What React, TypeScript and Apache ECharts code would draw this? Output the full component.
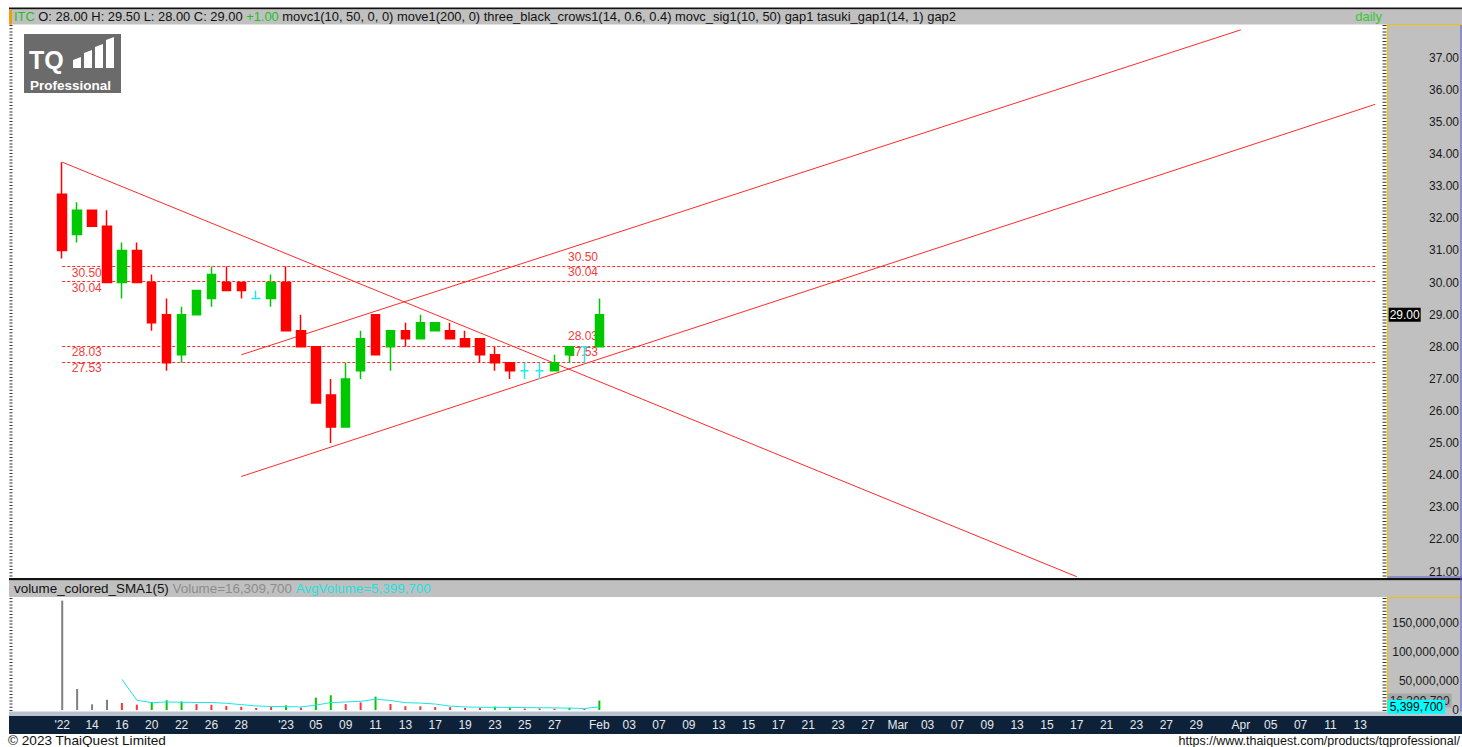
import React, { useEffect, useRef } from 'react';
import * as echarts from 'echarts';

// ---------------- data ----------------
const symbol = 'ITC';
const timeframe = 'daily';
const indicatorList =
  'movc1(10, 50, 0, 0) move1(200, 0) three_black_crows1(14, 0.6, 0.4) movc_sig1(10, 50) gap1 tasuki_gap1(14, 1) gap2';
const volumeIndicator = 'volume_colored_SMA1(5)';
const smaPeriod = 5;

const axisStart = '2022-12-06';
const axisEnd = '2023-04-14';
const marketHolidays = ['2022-12-12', '2023-01-02'];
const firstTradeDate = '2022-12-09';

const opens = [
  32.75, 31.5, 32.25, 31.75, 30.0, 31.0, 30.0, 29.0, 27.75, 29.0, 29.5, 30.0, 30.0, 29.5, 29.5, 30.0, 28.5,
  28.0, 26.5, 25.5, 27.25, 29.0, 28.0, 28.5, 28.25, 28.5, 28.5, 28.25, 28.25, 27.75, 27.5, 27.25, 27.25,
  27.25, 27.75, 28.0, 28.0,
];
const highs = [
  33.75, 32.5, 32.25, 32.25, 31.25, 31.25, 30.25, 29.5, 29.25, 29.75, 30.5, 30.5, 30.0, 29.75, 30.25, 30.5,
  29.0, 28.0, 27.0, 27.5, 28.5, 29.0, 28.5, 28.75, 29.0, 28.75, 28.75, 28.5, 28.25, 28.0, 27.5, 27.5, 27.5,
  27.75, 28.0, 28.0, 29.5,
];
const lows = [
  30.75, 31.25, 31.75, 30.0, 29.5, 30.0, 28.5, 27.25, 27.5, 29.0, 29.25, 29.75, 29.5, 29.5, 29.25, 28.5,
  28.0, 26.25, 25.0, 25.5, 27.0, 27.75, 27.25, 28.0, 28.25, 28.5, 28.25, 28.0, 27.5, 27.25, 27.0, 27.0,
  27.0, 27.25, 27.5, 27.5, 28.0,
];
const closes = [
  31.0, 32.25, 31.75, 30.0, 31.0, 30.0, 28.75, 27.5, 29.0, 29.75, 30.25, 29.75, 29.75, 29.5, 30.0, 28.5,
  28.0, 26.25, 25.5, 27.0, 28.25, 27.75, 28.5, 28.25, 28.75, 28.75, 28.25, 28.0, 27.75, 27.5, 27.25, 27.25,
  27.25, 27.5, 28.0, 28.0, 29.0,
];
const volumes = [
  188500000, 36200000, 9800000, 17600000, 12100000, 9200000, 13900000, 16800000, 14700000, 10100000,
  9000000, 7100000, 5600000, 3400000, 5000000, 8100000, 4200000, 21300000, 25400000, 10200000, 13100000,
  23000000, 10300000, 6600000, 6400000, 5100000, 4900000, 3600000, 3400000, 5900000, 5000000, 2500000,
  2612300, 2398600, 3786400, 1891500, 16309700,
];

const tickDates = [
  '2022-12-09', '2022-12-14', '2022-12-16', '2022-12-20', '2022-12-22', '2022-12-26', '2022-12-28',
  '2023-01-03', '2023-01-05', '2023-01-09', '2023-01-11', '2023-01-13', '2023-01-17', '2023-01-19',
  '2023-01-23', '2023-01-25', '2023-01-27', '2023-02-01', '2023-02-03', '2023-02-07', '2023-02-09',
  '2023-02-13', '2023-02-15', '2023-02-17', '2023-02-21', '2023-02-23', '2023-02-27', '2023-03-01',
  '2023-03-03', '2023-03-07', '2023-03-09', '2023-03-13', '2023-03-15', '2023-03-17', '2023-03-21',
  '2023-03-23', '2023-03-27', '2023-03-29', '2023-04-03', '2023-04-05', '2023-04-07', '2023-04-11',
  '2023-04-13',
];
const tickLabels = [
  "'22", '14', '16', '20', '22', '26', '28', "'23", '05', '09', '11', '13', '17', '19', '23', '25', '27',
  'Feb', '03', '07', '09', '13', '15', '17', '21', '23', '27', 'Mar', '03', '07', '09', '13', '15', '17',
  '21', '23', '27', '29', 'Apr', '05', '07', '11', '13',
];

const priceTicks = [21, 22, 23, 24, 25, 26, 27, 28, 29, 30, 31, 32, 33, 34, 35, 36, 37];
const volumeTicks = [0, 50000000, 100000000, 150000000];

const gapLevels = [30.5, 30.04, 28.03, 27.53];
const gapLabelDate = '2023-01-30';
const gapLineEnd = '2023-04-14';

const trendStart = ['2022-12-09', '2022-12-28', '2022-12-28'];
const trendStartPrice = [33.75, 27.75, 23.96];
const trendEnd = ['2023-03-17', '2023-04-03', '2023-04-14'];
const trendEndPrice = [20.84, 37.87, 35.55];

// ---------------- helpers ----------------
const FONT = "'Liberation Sans', Arial, sans-serif";
const UP = '#00c800';
const DOWN = '#ff0000';
const DOJI = '#1ee8f0';
const LEVEL = '#ff2a2a';
const GRAY = '#c0c0c0';
const YELLOW = '#f2c200';

const fmt2 = (v: number) => v.toFixed(2);
const fmtInt = (v: number) => Math.round(v).toLocaleString('en-US');

function tradingDays(start: string, end: string, skip: string[]) {
  const out: string[] = [];
  const d = new Date(start + 'T00:00:00Z');
  const e = new Date(end + 'T00:00:00Z');
  while (d.getTime() <= e.getTime()) {
    const wd = d.getUTCDay();
    const s = d.toISOString().slice(0, 10);
    if (wd !== 0 && wd !== 6 && skip.indexOf(s) < 0) out.push(s);
    d.setUTCDate(d.getUTCDate() + 1);
  }
  return out;
}

export default function App() {
  const ref = useRef<HTMLDivElement>(null);

  useEffect(() => {
    if (!ref.current) return;
    const chart = echarts.init(ref.current, null, { renderer: 'svg' });

    const categories = tradingDays(axisStart, axisEnd, marketHolidays);
    const startIdx = categories.indexOf(firstTradeDate);
    const barDates = categories.slice(startIdx, startIdx + closes.length);
    const tickMap = new Map<string, string>();
    tickDates.forEach((d, i) => tickMap.set(d, tickLabels[i]));

    const n = closes.length;
    const last = n - 1;
    const change = closes[last] - closes[last - 1];
    const changeText = (change >= 0 ? '+' : '') + fmt2(change);

    const sma: (number | null)[] = volumes.map((_, i) => {
      if (i < smaPeriod - 1) return null;
      let s = 0;
      for (let k = i - smaPeriod + 1; k <= i; k++) s += volumes[k];
      return s / smaPeriod;
    });
    const lastSma = sma[last] as number;

    const candleData = barDates.map((d, i) => [d, opens[i], closes[i], lows[i], highs[i]]);
    const volData = barDates.map((d, i) => {
      const s = sma[i];
      const color = s == null ? '#808080' : volumes[i] > s ? UP : '#ff3333';
      return { value: [d, volumes[i]], itemStyle: { color } };
    });
    const smaData = barDates
      .map((d, i) => [d, sma[i]])
      .filter((p) => p[1] != null);

    const gridW = 92 * 14.92;
    const gridRight = 10 + gridW;
    const labelMargin = 1459 - gridRight;

    const trendSeries = trendStart.map((s, i) => ({
      type: 'line',
      xAxisIndex: 0,
      yAxisIndex: 0,
      data: [
        [s, trendStartPrice[i]],
        [trendEnd[i], trendEndPrice[i]],
      ],
      symbol: 'none',
      silent: true,
      lineStyle: { color: '#ff2a2a', width: 1 },
      z: 4,
    }));

    (trendSeries[0] as any).markLine = {
      silent: true,
      symbol: ['none', 'none'],
      lineStyle: { color: LEVEL, type: [3, 2], width: 1 },
      label: { show: false },
      data: gapLevels.map((v) => [{ coord: [firstTradeDate, v] }, { coord: [gapLineEnd, v] }]),
    };
    (trendSeries[0] as any).markPoint = {
      silent: true,
      symbol: 'rect',
      symbolSize: 1,
      itemStyle: { color: 'rgba(0,0,0,0)' },
      label: {
        show: true,
        color: '#f03c3c',
        fontSize: 12,
        fontFamily: FONT,
        formatter: (p: any) => fmt2(p.value),
      },
      data: gapLevels.flatMap((v) => [
        { coord: [firstTradeDate, v], value: v, label: { position: [10, 1] } },
        { coord: [gapLabelDate, v], value: v, label: { position: [-1, -15] } },
      ]),
    };

    const tick = (x: number, y1: number, y2: number, w: number) => ({
      type: 'line',
      silent: true,
      shape: { x1: x, y1, x2: x, y2 },
      style: { stroke: '#333', lineWidth: w, lineDash: [1, 2.2] },
    });

    const option: any = {
      animation: false,
      textStyle: { fontFamily: FONT },
      title: [
        {
          left: 14,
          top: 10,
          padding: 0,
          text: `{g|${symbol}} {k|O: ${fmt2(opens[last])} H: ${fmt2(highs[last])} L: ${fmt2(lows[last])} C: ${fmt2(
            closes[last]
          )}} {g|${changeText}} {k|${indicatorList}}`,
          textStyle: {
            fontSize: 12.9,
            fontWeight: 'normal',
            color: '#111',
            fontFamily: FONT,
            rich: {
              g: { color: '#22c022', fontSize: 12.9, fontFamily: FONT },
              k: { color: '#111', fontSize: 12.9, fontFamily: FONT },
            },
          },
        },
        {
          right: 1462 - 1382,
          top: 10,
          padding: 0,
          text: timeframe,
          textStyle: { fontSize: 13, fontWeight: 'normal', color: '#32c832', fontFamily: FONT },
        },
        {
          left: 14,
          top: 582,
          padding: 0,
          text: `{a|${volumeIndicator}} {b|Volume=${fmtInt(volumes[last])}} {c|AvgVolume=${fmtInt(lastSma)}}`,
          textStyle: {
            fontSize: 13.4,
            fontWeight: 'normal',
            fontFamily: FONT,
            rich: {
              a: { color: '#111', fontSize: 13.4, fontFamily: FONT },
              b: { color: '#8c8c8c', fontSize: 13.4, fontFamily: FONT },
              c: { color: '#22e0e0', fontSize: 13.4, fontFamily: FONT },
            },
          },
        },
        {
          left: 8,
          top: 734,
          padding: 0,
          text: '© 2023 ThaiQuest Limited',
          textStyle: { fontSize: 13.6, lineHeight: 12, fontWeight: 'normal', color: '#111', fontFamily: FONT },
        },
        {
          right: 2,
          top: 735,
          padding: 0,
          text: 'https://www.thaiquest.com/products/tqprofessional/',
          textStyle: { fontSize: 12.5, lineHeight: 12, fontWeight: 'normal', color: '#111', fontFamily: FONT },
        },
      ],
      grid: [
        { left: 10, top: 25, width: gridW, height: 553 },
        { left: 10, top: 598, width: gridW, height: 112 },
      ],
      xAxis: [
        {
          type: 'category',
          gridIndex: 0,
          data: categories,
          axisLine: { show: false },
          axisTick: { show: false },
          axisLabel: { show: false },
          splitLine: { show: false },
        },
        {
          type: 'category',
          gridIndex: 1,
          data: categories,
          z: 3,
          axisLine: { show: false },
          axisTick: { show: false },
          splitLine: { show: false },
          axisLabel: {
            interval: (_i: number, v: string) => tickMap.has(v),
            formatter: (v: string) => tickMap.get(v) || '',
            color: '#e4e8ec',
            fontSize: 12,
            fontFamily: FONT,
            margin: 9,
          },
        },
      ],
      yAxis: [
        {
          type: 'value',
          gridIndex: 0,
          position: 'right',
          min: 20.8,
          max: 38.02,
          z: 3,
          splitLine: { show: false },
          axisLine: { show: false },
          axisTick: { show: false },
          axisLabel: {
            customValues: priceTicks,
            formatter: (v: number) => fmt2(v),
            align: 'right',
            margin: labelMargin,
            color: '#1a1a1a',
            fontSize: 12,
            fontFamily: FONT,
          },
        },
        {
          type: 'value',
          gridIndex: 1,
          position: 'right',
          min: 0,
          max: 193000000,
          z: 3,
          splitLine: { show: false },
          axisLine: { show: false },
          axisTick: { show: false },
          axisLabel: {
            customValues: volumeTicks,
            formatter: (v: number) => fmtInt(v),
            align: 'right',
            margin: labelMargin,
            color: '#1a1a1a',
            fontSize: 12,
            fontFamily: FONT,
          },
        },
      ],
      series: [
        ...trendSeries,
        {
          type: 'candlestick',
          xAxisIndex: 0,
          yAxisIndex: 0,
          barWidth: 9,
          data: candleData,
          encode: { x: 0, y: [1, 2, 3, 4] },
          z: 5,
          itemStyle: {
            color: UP,
            color0: DOWN,
            borderColor: UP,
            borderColor0: DOWN,
            borderColorDoji: DOJI,
            borderWidth: 1.5,
          },
          markLine: {
            silent: true,
            symbol: ['none', 'none'],
            lineStyle: { color: 'rgba(0,0,0,0)', width: 0 },
            label: {
              show: true,
              position: 'end',
              distance: 6,
              formatter: () => fmt2(closes[last]),
              color: '#fff',
              backgroundColor: '#000',
              padding: [1, 1, 1, 1],
              fontSize: 12,
              fontFamily: FONT,
            },
            data: [{ yAxis: closes[last] }],
          },
        },
        {
          type: 'bar',
          xAxisIndex: 1,
          yAxisIndex: 1,
          barWidth: 2,
          data: volData,
          z: 5,
          markLine: {
            silent: true,
            z: 5,
            symbol: ['none', 'none'],
            lineStyle: { color: 'rgba(0,0,0,0)', width: 0 },
            label: {
              show: true,
              position: 'end',
              distance: 5,
              formatter: () => fmtInt(volumes[last]),
              color: '#222',
              backgroundColor: '#a8a8a8',
              padding: [1, 2, 1, 2],
              fontSize: 12,
              fontFamily: FONT,
            },
            data: [{ yAxis: volumes[last] }],
          },
        },
        {
          type: 'line',
          xAxisIndex: 1,
          yAxisIndex: 1,
          data: smaData,
          symbol: 'none',
          z: 6,
          lineStyle: { color: '#19e6e6', width: 1 },
          markLine: {
            silent: true,
            z: 7,
            symbol: ['none', 'none'],
            lineStyle: { color: 'rgba(0,0,0,0)', width: 0 },
            label: {
              show: true,
              position: 'end',
              distance: 5,
              formatter: () => fmtInt(lastSma),
              color: '#000',
              backgroundColor: '#00ffff',
              padding: [1, 2, 1, 2],
              fontSize: 12,
              fontFamily: FONT,
            },
            data: [{ yAxis: lastSma }],
          },
        },
      ],
      graphic: [
        { type: 'rect', silent: true, shape: { x: 9, y: 7.5, width: 1453, height: 2 }, style: { fill: '#111' } },
        { type: 'rect', silent: true, shape: { x: 9, y: 9.5, width: 1453, height: 15 }, style: { fill: GRAY } },
        { type: 'rect', silent: true, shape: { x: 9, y: 9.5, width: 3, height: 15 }, style: { fill: '#f39c12' } },
        // price right panel
        { type: 'rect', silent: true, shape: { x: 1387.5, y: 24.5, width: 74.5, height: 554 }, style: { fill: GRAY } },
        { type: 'line', silent: true, shape: { x1: 1387.5, y1: 24.5, x2: 1387.5, y2: 578 }, style: { stroke: YELLOW, lineWidth: 1.2 } },
        { type: 'line', silent: true, shape: { x1: 1387.5, y1: 24.5, x2: 1462, y2: 24.5 }, style: { stroke: YELLOW, lineWidth: 1 } },
        { type: 'line', silent: true, shape: { x1: 1387.5, y1: 577, x2: 1462, y2: 577 }, style: { stroke: '#5a5ad0', lineWidth: 1 } },
        tick(1384.5, 25, 578, 4),
        tick(11, 25, 578, 3),
        // pane separator and volume header
        { type: 'rect', silent: true, shape: { x: 9, y: 578, width: 1453, height: 2.5 }, style: { fill: '#111' } },
        { type: 'rect', silent: true, shape: { x: 9, y: 580.5, width: 1453, height: 16.5 }, style: { fill: GRAY } },
        // volume right panel
        { type: 'rect', silent: true, shape: { x: 1387.5, y: 597, width: 74.5, height: 116 }, style: { fill: GRAY } },
        { type: 'line', silent: true, shape: { x1: 1387.5, y1: 597, x2: 1387.5, y2: 713 }, style: { stroke: YELLOW, lineWidth: 1.2 } },
        { type: 'line', silent: true, shape: { x1: 1387.5, y1: 597.5, x2: 1462, y2: 597.5 }, style: { stroke: YELLOW, lineWidth: 1 } },
        { type: 'line', silent: true, shape: { x1: 1461, y1: 25, x2: 1461, y2: 713 }, style: { stroke: '#5a5ad0', lineWidth: 1 } },
        tick(1384.5, 598, 712, 4),
        tick(11, 598, 712, 3),
        // date axis band
        { type: 'rect', silent: true, shape: { x: 9, y: 711.5, width: 1453, height: 4.5 }, style: { fill: '#b9c3cd' } },
        { type: 'rect', silent: true, shape: { x: 9, y: 716, width: 1453, height: 18 }, style: { fill: '#0d2238' } },
        // logo
        {
          type: 'group',
          x: 24,
          y: 34,
          silent: true,
          children: [
            { type: 'rect', shape: { x: 0, y: 0, width: 97, height: 59 }, style: { fill: '#6b6b6b' } },
            {
              type: 'text',
              x: 5,
              y: 13,
              style: {
                text: 'TQ',
                fill: '#fff',
                fontSize: 25,
                fontWeight: 'bold',
                fontFamily: FONT,
                align: 'left',
                verticalAlign: 'top',
              },
            },
            { type: 'polygon', shape: { points: [[49, 34], [49, 26], [57, 23], [57, 34]] }, style: { fill: '#fff' } },
            { type: 'polygon', shape: { points: [[60, 34], [60, 19], [68, 16], [68, 34]] }, style: { fill: '#fff' } },
            { type: 'polygon', shape: { points: [[71, 34], [71, 13], [79, 10], [79, 34]] }, style: { fill: '#fff' } },
            { type: 'polygon', shape: { points: [[82, 34], [82, 6], [90, 3], [90, 34]] }, style: { fill: '#fff' } },
            {
              type: 'text',
              x: 6,
              y: 44,
              style: {
                text: 'Professional',
                fill: '#fff',
                fontSize: 13.5,
                fontWeight: 'bold',
                fontFamily: FONT,
                align: 'left',
                verticalAlign: 'top',
              },
            },
          ],
        },
      ],
    };

    chart.setOption(option);
    return () => chart.dispose();
  }, []);

  return (
    <div
      ref={ref}
      style={{ position: 'fixed', left: 0, top: 0, width: 1462, height: 747, background: '#fff' }}
    />
  );
}
